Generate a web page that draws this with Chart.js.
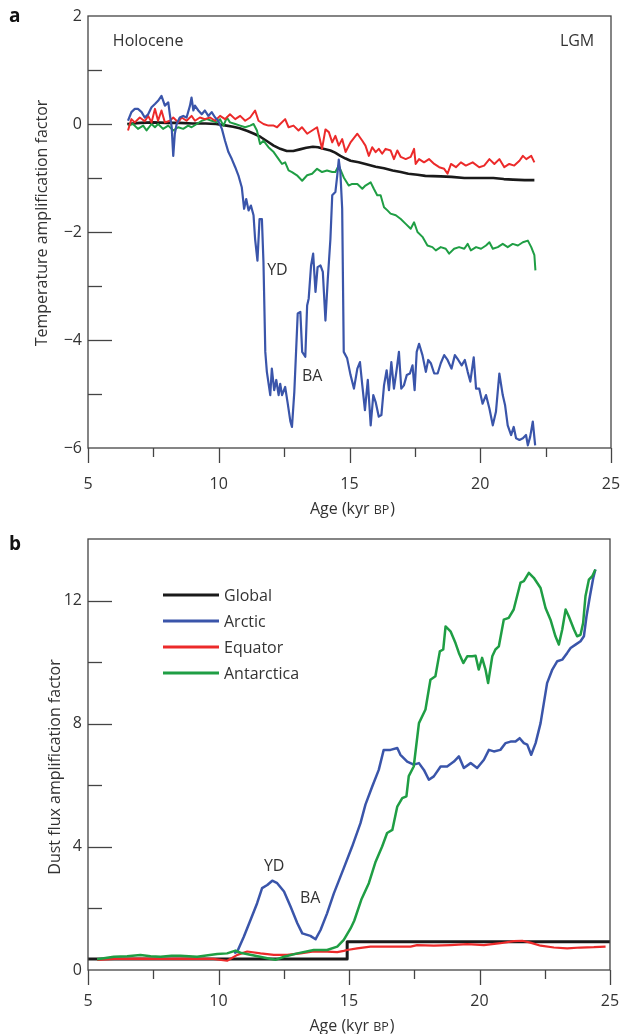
<!DOCTYPE html>
<html><head><meta charset="utf-8">
<script src="https://cdn.jsdelivr.net/npm/chart.js@4.4.1/dist/chart.umd.min.js"></script>
<style>
html,body{margin:0;padding:0;background:#fff;}
#wrap{position:relative;width:622px;height:1034px;overflow:hidden;}
canvas{position:absolute;left:0;}
#ca{top:0;} #cb{top:520px;}
</style></head><body>
<div id="wrap"><canvas id="ca" width="622" height="520"></canvas><canvas id="cb" width="622" height="514"></canvas></div>
<script>
// ---------- Panel a: temperature amplification factor (age kyr BP, value) ----------
const tempGlobal = [[6.5,0],[7,0.02],[7.5,0.03],[8,0.02],[8.5,0.02],[9,0.01],[9.5,0.01],[9.9,0],[10.3,-0.03],[10.55,-0.05],[10.8,-0.08],[11.1,-0.13],[11.35,-0.18],[11.6,-0.24],[11.85,-0.32],[12.1,-0.4],[12.35,-0.46],[12.6,-0.5],[12.85,-0.5],[13.1,-0.47],[13.35,-0.44],[13.6,-0.42],[13.8,-0.43],[14.0,-0.46],[14.27,-0.49],[14.45,-0.53],[14.65,-0.59],[14.85,-0.64],[15.04,-0.68],[15.35,-0.71],[15.68,-0.75],[16,-0.79],[16.32,-0.82],[16.65,-0.86],[16.96,-0.89],[17.25,-0.92],[17.6,-0.94],[17.9,-0.96],[18.49,-0.97],[18.9,-0.98],[19.39,-1.0],[20,-1.0],[20.5,-1.0],[20.9,-1.02],[21.25,-1.03],[21.7,-1.04],[22.07,-1.04]];
const tempArctic = [[6.53,0.06],[6.66,0.22],[6.79,0.28],[6.91,0.28],[7.05,0.22],[7.17,0.12],[7.30,0.18],[7.43,0.31],[7.56,0.37],[7.68,0.43],[7.81,0.52],[7.94,0.34],[8.07,0.4],[8.13,0.18],[8.20,-0.06],[8.26,-0.59],[8.32,-0.18],[8.39,0],[8.51,0.12],[8.64,0.15],[8.77,0.12],[8.90,0.34],[8.96,0.49],[9.03,0.25],[9.09,0.34],[9.22,0.25],[9.35,0.18],[9.47,0.25],[9.60,0.15],[9.73,0.22],[9.86,0.12],[9.98,0.06],[10.12,-0.09],[10.24,-0.31],[10.37,-0.52],[10.50,-0.65],[10.63,-0.8],[10.75,-0.95],[10.88,-1.17],[10.97,-1.57],[11.05,-1.39],[11.14,-1.6],[11.23,-1.51],[11.33,-1.69],[11.39,-2.13],[11.48,-2.53],[11.56,-1.76],[11.65,-1.76],[11.71,-2.56],[11.78,-4.22],[11.84,-4.59],[11.97,-5.02],[12.03,-4.53],[12.12,-4.93],[12.20,-4.74],[12.29,-5.02],[12.35,-4.81],[12.42,-5.02],[12.54,-4.87],[12.63,-5.15],[12.74,-5.51],[12.80,-5.61],[12.89,-4.96],[13.02,-3.51],[13.12,-3.48],[13.19,-4.22],[13.31,-4.31],[13.38,-3.36],[13.44,-3.23],[13.53,-2.62],[13.61,-2.40],[13.70,-3.11],[13.78,-2.65],[13.89,-2.62],[13.98,-2.74],[14.08,-3.64],[14.17,-2.87],[14.27,-2.13],[14.34,-1.32],[14.46,-1.26],[14.53,-0.96],[14.59,-0.66],[14.65,-0.89],[14.72,-1.57],[14.78,-4.22],[14.91,-4.34],[15.04,-4.65],[15.17,-4.9],[15.30,-4.53],[15.40,-4.41],[15.49,-4.84],[15.59,-5.3],[15.70,-4.74],[15.81,-5.58],[15.91,-5.02],[16.0,-5.15],[16.12,-5.42],[16.22,-5.39],[16.32,-4.84],[16.42,-4.56],[16.51,-4.93],[16.60,-4.41],[16.70,-4.9],[16.80,-4.56],[16.89,-4.22],[16.98,-4.9],[17.08,-4.84],[17.19,-4.65],[17.31,-4.62],[17.41,-4.47],[17.49,-4.93],[17.57,-4.22],[17.66,-4.07],[17.79,-4.28],[17.92,-4.59],[18.01,-4.37],[18.11,-4.43],[18.24,-4.62],[18.37,-4.62],[18.49,-4.43],[18.62,-4.28],[18.75,-4.37],[18.90,-4.53],[19.03,-4.28],[19.16,-4.37],[19.29,-4.47],[19.41,-4.37],[19.52,-4.59],[19.62,-4.77],[19.75,-4.32],[19.84,-4.9],[19.96,-4.9],[20.09,-5.18],[20.22,-5.02],[20.35,-5.27],[20.48,-5.58],[20.60,-5.33],[20.73,-4.62],[20.86,-5.02],[20.95,-5.21],[21.05,-5.58],[21.18,-5.76],[21.28,-5.61],[21.37,-5.82],[21.50,-5.85],[21.63,-5.82],[21.75,-5.76],[21.82,-5.95],[21.91,-5.79],[22.01,-5.51],[22.10,-5.95]];
const tempEquator = [[6.53,-0.12],[6.66,0.09],[6.79,0.03],[6.98,0.12],[7.17,0.05],[7.30,0.15],[7.43,0.03],[7.56,0.28],[7.68,0.06],[7.81,0.25],[7.94,0.03],[8.13,0.06],[8.26,0.12],[8.45,0.03],[8.58,0.12],[8.77,0.06],[8.96,0.15],[9.09,0.06],[9.28,0.12],[9.47,0.09],[9.67,0.12],[9.86,0.06],[10.05,0.15],[10.24,0.09],[10.43,0.18],[10.63,0.09],[10.82,0.15],[11.01,0.06],[11.2,0.12],[11.39,0.25],[11.52,0.06],[11.71,0],[11.9,-0.03],[12.1,-0.03],[12.23,-0.06],[12.35,0],[12.54,0.09],[12.67,-0.06],[12.86,-0.03],[13.05,-0.12],[13.18,-0.06],[13.38,-0.18],[13.57,-0.12],[13.76,-0.06],[13.95,-0.46],[14.08,-0.1],[14.21,-0.15],[14.34,-0.34],[14.46,-0.22],[14.59,-0.40],[14.72,-0.28],[14.85,-0.52],[15.04,-0.34],[15.30,-0.18],[15.49,-0.31],[15.61,-0.40],[15.74,-0.59],[15.87,-0.43],[16.0,-0.52],[16.12,-0.46],[16.25,-0.55],[16.38,-0.46],[16.57,-0.49],[16.70,-0.65],[16.83,-0.49],[16.96,-0.61],[17.15,-0.65],[17.34,-0.61],[17.47,-0.46],[17.53,-0.74],[17.66,-0.65],[17.85,-0.71],[18.04,-0.65],[18.24,-0.74],[18.43,-0.80],[18.62,-0.83],[18.75,-0.92],[18.88,-0.74],[19.07,-0.80],[19.26,-0.71],[19.45,-0.77],[19.71,-0.71],[19.96,-0.80],[20.15,-0.77],[20.35,-0.65],[20.54,-0.74],[20.73,-0.65],[20.92,-0.80],[21.11,-0.74],[21.30,-0.77],[21.50,-0.68],[21.63,-0.59],[21.76,-0.65],[21.95,-0.59],[22.07,-0.71]];
const tempAntarctica = [[6.53,-0.03],[6.72,0],[6.91,-0.09],[7.11,-0.03],[7.24,-0.12],[7.43,0],[7.56,-0.06],[7.68,0],[7.87,-0.09],[8.07,-0.03],[8.26,-0.12],[8.45,-0.06],[8.64,-0.09],[8.83,-0.03],[8.96,-0.06],[9.16,0],[9.35,0.06],[9.54,0.09],[9.73,0.06],[9.92,0.03],[10.05,0.09],[10.18,-0.03],[10.31,0.12],[10.43,0.03],[10.63,0],[10.82,-0.03],[11.01,-0.06],[11.2,-0.03],[11.33,0],[11.46,-0.12],[11.58,-0.37],[11.71,-0.31],[11.9,-0.43],[12.10,-0.52],[12.29,-0.65],[12.42,-0.74],[12.54,-0.71],[12.67,-0.86],[12.80,-0.89],[12.99,-0.95],[13.19,-1.05],[13.38,-0.95],[13.57,-0.92],[13.76,-0.83],[13.95,-0.89],[14.14,-0.86],[14.34,-0.89],[14.46,-0.89],[14.59,-0.77],[14.78,-0.99],[14.97,-1.14],[15.10,-1.11],[15.30,-1.11],[15.49,-1.2],[15.61,-1.14],[15.81,-1.08],[15.93,-1.2],[16.06,-1.32],[16.19,-1.32],[16.32,-1.54],[16.45,-1.6],[16.57,-1.66],[16.77,-1.69],[16.96,-1.76],[17.15,-1.85],[17.34,-1.94],[17.47,-1.82],[17.60,-2.0],[17.79,-2.09],[17.98,-2.25],[18.17,-2.28],[18.30,-2.34],[18.49,-2.28],[18.68,-2.31],[18.81,-2.4],[19.0,-2.31],[19.19,-2.28],[19.39,-2.31],[19.52,-2.22],[19.64,-2.34],[19.84,-2.28],[20.03,-2.31],[20.22,-2.25],[20.35,-2.19],[20.48,-2.31],[20.67,-2.28],[20.86,-2.22],[21.05,-2.28],[21.24,-2.22],[21.44,-2.25],[21.63,-2.19],[21.82,-2.16],[21.95,-2.28],[22.07,-2.43],[22.11,-2.71]];

// ---------- Panel b: dust flux amplification factor ----------
const dustGlobal = [[5,0.36],[14.93,0.36],[14.93,0.92],[25,0.92]];
const dustArctic = [[10.6,0.55],[10.72,0.6],[10.97,1.08],[11.23,1.63],[11.48,2.17],[11.67,2.66],[11.87,2.76],[12.06,2.9],[12.25,2.82],[12.51,2.55],[12.76,2.06],[13.02,1.52],[13.21,1.19],[13.52,1.11],[13.72,1.0],[13.91,1.3],[14.16,1.84],[14.42,2.49],[14.8,3.31],[15.12,4.01],[15.44,4.77],[15.63,5.37],[15.89,5.96],[16.14,6.5],[16.33,7.15],[16.59,7.15],[16.85,7.21],[16.97,6.99],[17.23,6.77],[17.48,6.67],[17.68,6.72],[17.87,6.5],[18.06,6.18],[18.25,6.29],[18.51,6.61],[18.76,6.61],[19.02,6.77],[19.21,6.94],[19.40,6.56],[19.66,6.72],[19.91,6.56],[20.17,6.83],[20.36,7.15],[20.55,7.1],[20.8,7.15],[21.0,7.37],[21.19,7.42],[21.38,7.42],[21.54,7.53],[21.7,7.37],[21.83,7.32],[21.98,6.99],[22.15,7.37],[22.34,8.02],[22.59,9.32],[22.79,9.76],[22.98,10.03],[23.17,10.08],[23.36,10.3],[23.49,10.46],[23.68,10.57],[23.87,10.68],[24.0,10.84],[24.1,11.49],[24.23,12.14],[24.36,12.74],[24.44,13.01]];
const dustEquator = [[5.35,0.33],[6,0.36],[7,0.37],[8,0.36],[9,0.37],[9.8,0.36],[10.33,0.3],[10.72,0.49],[11.1,0.6],[11.61,0.54],[12.12,0.49],[12.63,0.49],[13.14,0.54],[13.65,0.6],[14.16,0.6],[14.55,0.58],[14.8,0.62],[14.93,0.65],[15.31,0.7],[15.82,0.76],[16.46,0.76],[17.36,0.76],[17.61,0.81],[18.25,0.79],[18.89,0.81],[19.53,0.84],[20.17,0.81],[20.8,0.87],[21.31,0.94],[21.64,0.95],[21.95,0.89],[22.34,0.79],[22.85,0.73],[23.36,0.7],[23.87,0.73],[24.38,0.74],[24.83,0.76]];
const dustAntarctica = [[5.35,0.35],[5.99,0.43],[6.5,0.45],[7.01,0.49],[7.4,0.45],[7.78,0.43],[8.2,0.46],[8.54,0.46],[9.18,0.43],[9.6,0.48],[9.95,0.52],[10.33,0.54],[10.65,0.63],[10.84,0.56],[11.36,0.47],[11.87,0.38],[12.18,0.33],[12.51,0.43],[13.02,0.54],[13.65,0.65],[14.16,0.65],[14.55,0.76],[14.8,0.98],[15.06,1.35],[15.2,1.6],[15.47,2.28],[15.76,2.82],[16.02,3.52],[16.27,4.01],[16.46,4.45],[16.66,4.55],[16.85,5.31],[17.04,5.58],[17.2,5.64],[17.29,6.3],[17.48,6.61],[17.68,8.02],[17.93,8.46],[18.12,9.43],[18.31,9.54],[18.48,10.35],[18.61,10.41],[18.70,11.16],[18.89,11.0],[19.08,10.62],[19.21,10.3],[19.38,9.97],[19.53,10.19],[19.72,10.19],[19.85,10.21],[19.97,9.76],[20.1,10.14],[20.23,9.76],[20.33,9.32],[20.49,10.19],[20.61,10.41],[20.74,10.51],[20.93,11.38],[21.12,11.44],[21.31,11.71],[21.57,12.58],[21.7,12.63],[21.89,12.9],[22.08,12.74],[22.34,12.41],[22.53,11.76],[22.72,11.38],[22.91,10.84],[23.04,10.57],[23.17,11.06],[23.3,11.71],[23.42,11.49],[23.62,11.06],[23.74,10.84],[23.87,10.89],[23.97,11.27],[24.06,12.14],[24.19,12.68],[24.32,12.79],[24.44,13.01]];

// ---------- Axes / labels ----------
const ageRange = [5, 25];
const tempRange = [-6, 2];
const dustRange = [0, 14];
const seriesNames = ['Global', 'Arctic', 'Equator', 'Antarctica'];
const seriesColors = ['#1a1a1a', '#3a55aa', '#ec2a2a', '#1f9e44'];

const FONT = '"Open Sans", Lato, sans-serif';
const INK = '#333333';
const fmt = v => (v < 0 ? '\u2212' + Math.abs(v) : String(v));

function overlayPlugin(o) {
  return {
    id: 'overlay',
    afterDraw(chart) {
      const ctx = chart.ctx;
      const ca = chart.chartArea;
      const xs = chart.scales.x, ys = chart.scales.y;
      ctx.save();
      ctx.strokeStyle = '#444';
      ctx.lineWidth = 1.3;
      ctx.strokeRect(ca.left, ca.top, ca.right - ca.left, ca.bottom - ca.top);
      // y ticks (inside)
      for (let v = o.yMin; v <= o.yMax + 1e-9; v += o.yMinor) {
        const py = Math.round(ys.getPixelForValue(v)) + 0.5;
        if (py <= ca.top + 2 || py >= ca.bottom - 2) continue;
        const major = Math.abs(v / o.yMajor - Math.round(v / o.yMajor)) < 1e-6;
        ctx.beginPath(); ctx.moveTo(ca.left, py); ctx.lineTo(ca.left + (major ? 24 : 14), py); ctx.stroke();
      }
      // x ticks (outside, below)
      for (let v = ageRange[0]; v <= ageRange[1] + 1e-9; v += 2.5) {
        const px = Math.round(xs.getPixelForValue(v)) + 0.5;
        const major = Math.abs(v / 5 - Math.round(v / 5)) < 1e-6;
        ctx.beginPath(); ctx.moveTo(px, ca.bottom); ctx.lineTo(px, ca.bottom + (major ? 15 : 9)); ctx.stroke();
      }
      // panel letter
      ctx.fillStyle = '#111';
      ctx.font = 'bold 19px ' + FONT;
      ctx.textBaseline = 'middle'; ctx.textAlign = 'left';
      ctx.fillText(o.letter, 9, o.letterY);
      // annotations
      ctx.fillStyle = INK;
      ctx.font = '16px ' + FONT;
      for (const a of o.notes) {
        ctx.textAlign = a.align || 'left';
        ctx.fillText(a.t, xs.getPixelForValue(a.x), ys.getPixelForValue(a.y));
      }
      // x title with small-caps BP
      const p1 = 'Age (kyr ', p2 = 'BP', p3 = ')';
      ctx.font = '16px ' + FONT; const w1 = ctx.measureText(p1).width, w3 = ctx.measureText(p3).width;
      ctx.font = '12.5px ' + FONT; const w2 = ctx.measureText(p2).width;
      let sx = (ca.left + ca.right) / 2 + 3 - (w1 + w2 + w3 + 1) / 2;
      ctx.textAlign = 'left'; ctx.textBaseline = 'alphabetic';
      ctx.font = '16px ' + FONT; ctx.fillText(p1, sx, o.xTitleY);
      ctx.font = '12.5px ' + FONT; ctx.fillText(p2, sx + w1, o.xTitleY);
      ctx.font = '16px ' + FONT; ctx.fillText(p3, sx + w1 + w2 + 1, o.xTitleY);
      // y title
      ctx.save();
      ctx.translate(o.yTitleX, o.yTitleY);
      ctx.rotate(-Math.PI / 2);
      ctx.textAlign = 'center'; ctx.textBaseline = 'middle';
      ctx.font = '16px ' + FONT;
      ctx.fillText(o.yTitle, 0, 0);
      ctx.restore();
      // legend
      if (o.legend) {
        const lx = ca.left + 75, ly = ca.top + 56;
        chart.data.datasets.slice().sort((a, b) => a.legendIndex - b.legendIndex).forEach((ds, i) => {
          const yy = ly + i * 26;
          ctx.strokeStyle = ds.borderColor; ctx.lineWidth = 3;
          ctx.beginPath(); ctx.moveTo(lx, yy); ctx.lineTo(lx + 56, yy); ctx.stroke();
          ctx.fillStyle = INK; ctx.textAlign = 'left'; ctx.textBaseline = 'middle';
          ctx.font = '16px ' + FONT;
          ctx.fillText(ds.label, lx + 61, yy + 1);
        });
      }
      ctx.restore();
    }
  };
}

function makeScales(yRange, yStep, xPad, yWidth, xHeight) {
  return {
    x: {
      type: 'linear', min: ageRange[0], max: ageRange[1],
      afterFit: s => { s.height = xHeight; s.paddingLeft = 0; s.paddingRight = 0; },
      border: { display: false },
      grid: { display: true, drawOnChartArea: false, drawTicks: false, color: 'rgba(0,0,0,0)' },
      ticks: { stepSize: 5, padding: xPad, color: INK, font: { family: FONT, size: 16 }, maxRotation: 0, callback: v => fmt(v) }
    },
    y: {
      type: 'linear', min: yRange[0], max: yRange[1],
      afterFit: s => { s.width = yWidth; s.paddingTop = 0; s.paddingBottom = 0; },
      border: { display: false },
      grid: { display: true, drawOnChartArea: false, drawTicks: false, color: 'rgba(0,0,0,0)' },
      ticks: { stepSize: yStep, includeBounds: false, padding: 6, color: INK, font: { family: FONT, size: 16 }, callback: v => fmt(v) }
    }
  };
}

function ds(label, data, idx, width, order) {
  return { label, data, borderColor: seriesColors[idx], backgroundColor: seriesColors[idx], borderWidth: width,
           pointRadius: 0, tension: 0, fill: false, order, legendIndex: idx, borderJoinStyle: 'round' };
}

new Chart(document.getElementById('ca'), {
  type: 'line',
  data: { datasets: [
    ds(seriesNames[1], tempArctic, 1, 2.2, 0),
    ds(seriesNames[2], tempEquator, 2, 2, 1),
    ds(seriesNames[3], tempAntarctica, 3, 2, 2),
    ds(seriesNames[0], tempGlobal, 0, 2.6, 3)
  ]},
  options: {
    responsive: false, animation: false, events: [],
    layout: { padding: { top: 16, right: 11, left: 0, bottom: 0 } },
    plugins: { legend: { display: false }, tooltip: { enabled: false } },
    scales: makeScales(tempRange, 2, 27, 88, 72)
  },
  plugins: [overlayPlugin({
    yMin: tempRange[0], yMax: tempRange[1], yMinor: 1, yMajor: 2,
    letter: 'a', letterY: 17, xTitleY: 514, yTitleX: 42, yTitleY: 223,
    yTitle: 'Temperature amplification factor',
    notes: [
      { t: 'Holocene', x: 5.95, y: 1.52 },
      { t: 'LGM', x: 24.36, y: 1.52, align: 'right' },
      { t: 'YD', x: 11.85, y: -2.72 },
      { t: 'BA', x: 13.18, y: -4.68 }
    ],
    legend: false
  })]
});

new Chart(document.getElementById('cb'), {
  type: 'line',
  data: { datasets: [
    ds(seriesNames[0], dustGlobal, 0, 3, 3),
    ds(seriesNames[1], dustArctic, 1, 2.5, 1),
    ds(seriesNames[2], dustEquator, 2, 2.2, 2),
    ds(seriesNames[3], dustAntarctica, 3, 2.5, 0)
  ]},
  options: {
    responsive: false, animation: false, events: [],
    layout: { padding: { top: 19, right: 12, left: 0, bottom: 0 } },
    plugins: { legend: { display: false }, tooltip: { enabled: false } },
    scales: makeScales(dustRange, 4, 22, 88, 64)
  },
  plugins: [overlayPlugin({
    yMin: dustRange[0], yMax: dustRange[1], yMinor: 2, yMajor: 4,
    letter: 'b', letterY: 25, xTitleY: 511, yTitleX: 55, yTitleY: 247,
    yTitle: 'Dust flux amplification factor',
    notes: [
      { t: 'YD', x: 11.74, y: 3.35 },
      { t: 'BA', x: 13.12, y: 2.31 }
    ],
    legend: true
  })]
});
</script>
</body></html>
